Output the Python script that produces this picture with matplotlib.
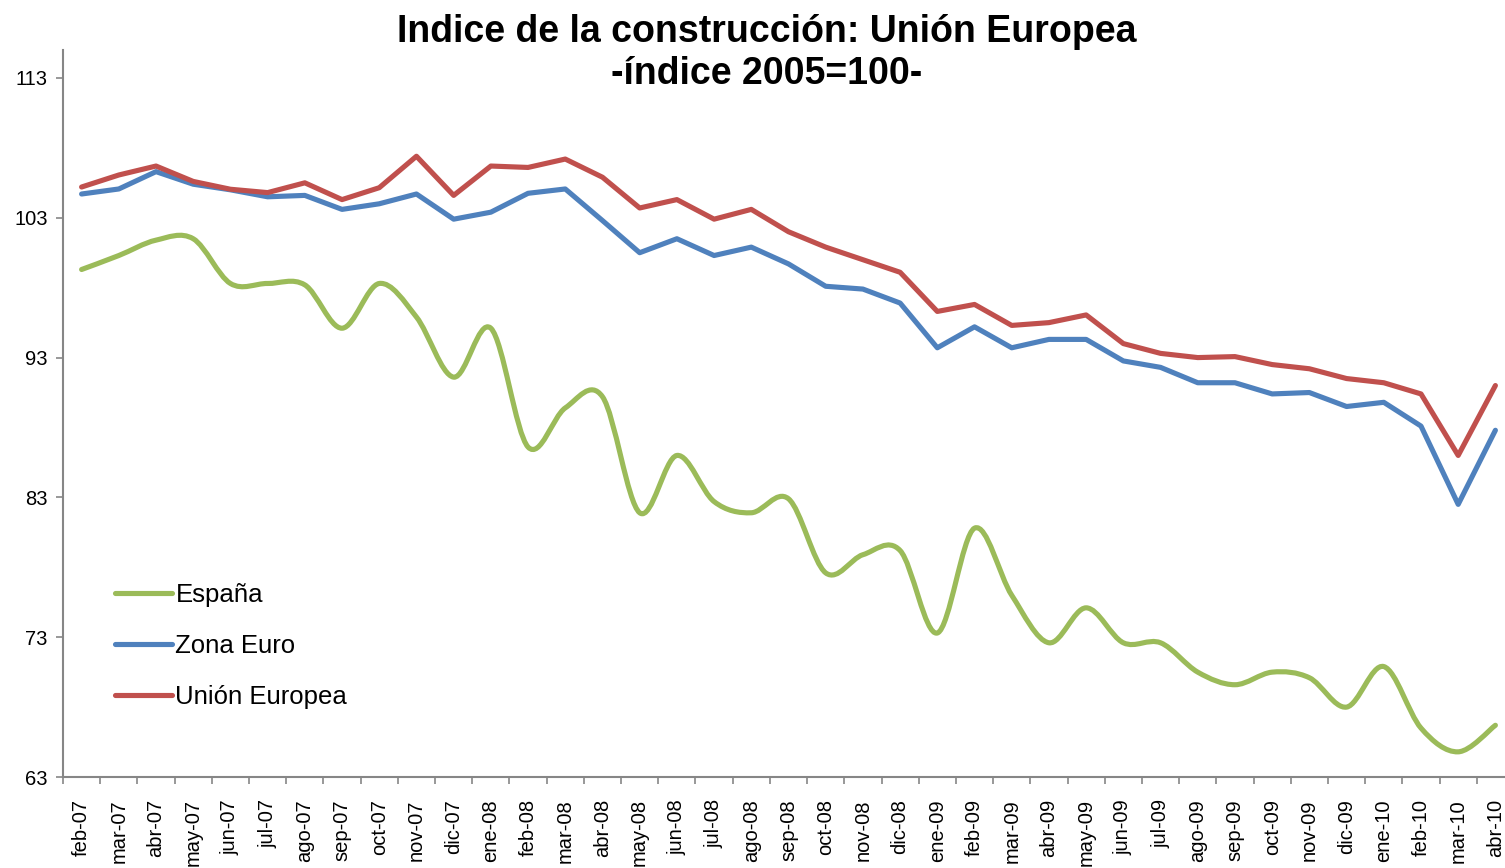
import matplotlib
matplotlib.use('Agg')
import matplotlib.pyplot as plt
from matplotlib.path import Path
from matplotlib.patches import PathPatch
from matplotlib.lines import Line2D
import numpy as np

plt.rcParams['font.family'] = ['Liberation Sans', 'DejaVu Sans']

# months shown on the category axis
months = ['feb-07', 'mar-07', 'abr-07', 'may-07', 'jun-07', 'jul-07', 'ago-07', 'sep-07',
          'oct-07', 'nov-07', 'dic-07', 'ene-08', 'feb-08', 'mar-08', 'abr-08', 'may-08',
          'jun-08', 'jul-08', 'ago-08', 'sep-08', 'oct-08', 'nov-08', 'dic-08', 'ene-09',
          'feb-09', 'mar-09', 'abr-09', 'may-09', 'jun-09', 'jul-09', 'ago-09', 'sep-09',
          'oct-09', 'nov-09', 'dic-09', 'ene-10', 'feb-10', 'mar-10', 'abr-10']

# index values (2005=100)
espana = [99.3, 100.3, 101.4, 101.5, 98.3, 98.3, 98.2, 95.1, 98.3, 95.9,
          91.6, 95.1, 86.6, 89.4, 90.2, 81.9, 86.0, 82.7, 81.9, 82.9,
          77.6, 78.9, 79.2, 73.3, 80.8, 76.0, 72.6, 75.1, 72.6, 72.6,
          70.5, 69.6, 70.5, 70.1, 68.0, 70.9, 66.5, 64.8, 66.7]
zona_euro = [104.7, 105.06, 106.3, 105.4, 105.0, 104.5, 104.6, 103.6, 104.0, 104.7,
             102.9, 103.4, 104.75, 105.06, 102.8, 100.5, 101.5, 100.3, 100.9, 99.7,
             98.1, 97.9, 96.9, 93.7, 95.2, 93.7, 94.3, 94.3, 92.76, 92.3,
             91.2, 91.2, 90.4, 90.5, 89.5, 89.8, 88.1, 82.5, 87.8]
union_europea = [105.2, 106.06, 106.7, 105.6, 105.04, 104.8, 105.5, 104.3, 105.15, 107.4,
                 104.6, 106.7, 106.6, 107.2, 105.9, 103.7, 104.3, 102.9, 103.6, 102.0,
                 100.9, 100.0, 99.1, 96.3, 96.8, 95.3, 95.5, 96.05, 94.0, 93.3,
                 93.0, 93.07, 92.5, 92.2, 91.5, 91.2, 90.4, 86.0, 91.0]

green = '#9BBB59'
blue = '#4F81BD'
red = '#C0504D'
axis_grey = '#868686'
lw = 3.7


# Excel style smoothed line: cubic bezier through every point
def smooth_path(xs, ys):
    pts = np.column_stack([xs, ys]).astype(float)
    padded = np.vstack([pts[0], pts, pts[-1]])
    verts = [pts[0]]
    codes = [Path.MOVETO]
    for i in range(len(pts) - 1):
        p0, p1, p2, p3 = padded[i], padded[i + 1], padded[i + 2], padded[i + 3]
        verts += [p1 + (p2 - p0) / 6, p2 - (p3 - p1) / 6, p2]
        codes += [Path.CURVE4] * 3
    return Path(verts, codes)


fig = plt.figure(figsize=(15.05, 8.68), dpi=100)
ax = fig.add_axes([63 / 1505, 91 / 868, 1451 / 1505, 727 / 868])

x = np.arange(len(months))
ax.add_patch(PathPatch(smooth_path(x, espana), facecolor='none', edgecolor=green,
                       lw=lw, capstyle='round', joinstyle='round'))
ax.plot(x, zona_euro, color=blue, lw=lw, solid_capstyle='round', solid_joinstyle='round')
ax.plot(x, union_europea, color=red, lw=lw, solid_capstyle='round', solid_joinstyle='round')

ax.set_xlim(-0.5, len(months) - 0.5)
ax.set_ylim(63, 115)
ax.set_yticks([63, 73, 83, 93, 103, 113])
ax.tick_params(axis='y', labelsize=14.5, length=5, width=1.2, color=axis_grey, pad=6)

ax.set_xticks(x)
ax.set_xticklabels(months, rotation=90, va='top', ha='center')
ax.set_xticks(np.arange(len(months) + 1) - 0.5, minor=True)
ax.tick_params(axis='x', which='major', length=0, labelsize=14.5, pad=16)
ax.tick_params(axis='x', which='minor', length=5, width=1.2, color=axis_grey)

for side in ['top', 'right']:
    ax.spines[side].set_visible(False)
for side in ['left', 'bottom']:
    ax.spines[side].set_color(axis_grey)
    ax.spines[side].set_linewidth(1.5)

handles = [Line2D([], [], color=green, lw=lw, solid_capstyle='round'),
           Line2D([], [], color=blue, lw=lw, solid_capstyle='round'),
           Line2D([], [], color=red, lw=lw, solid_capstyle='round')]
fig.legend(handles, ['España', 'Zona Euro', 'Unión Europea'], loc='upper left',
           bbox_to_anchor=(115 / 1505, 1 - 583 / 868), frameon=False, fontsize=18.5,
           handlelength=2.2, handletextpad=0.15, labelspacing=1.05,
           borderpad=0, borderaxespad=0)

fig.text(767 / 1505, 1 - 42 / 868, 'Indice de la construcción: Unión Europea',
         ha='center', va='baseline', fontsize=27, fontweight='bold')
fig.text(767 / 1505, 1 - 84 / 868, '-índice 2005=100-',
         ha='center', va='baseline', fontsize=27, fontweight='bold')

fig.savefig('out.png', dpi=100)
